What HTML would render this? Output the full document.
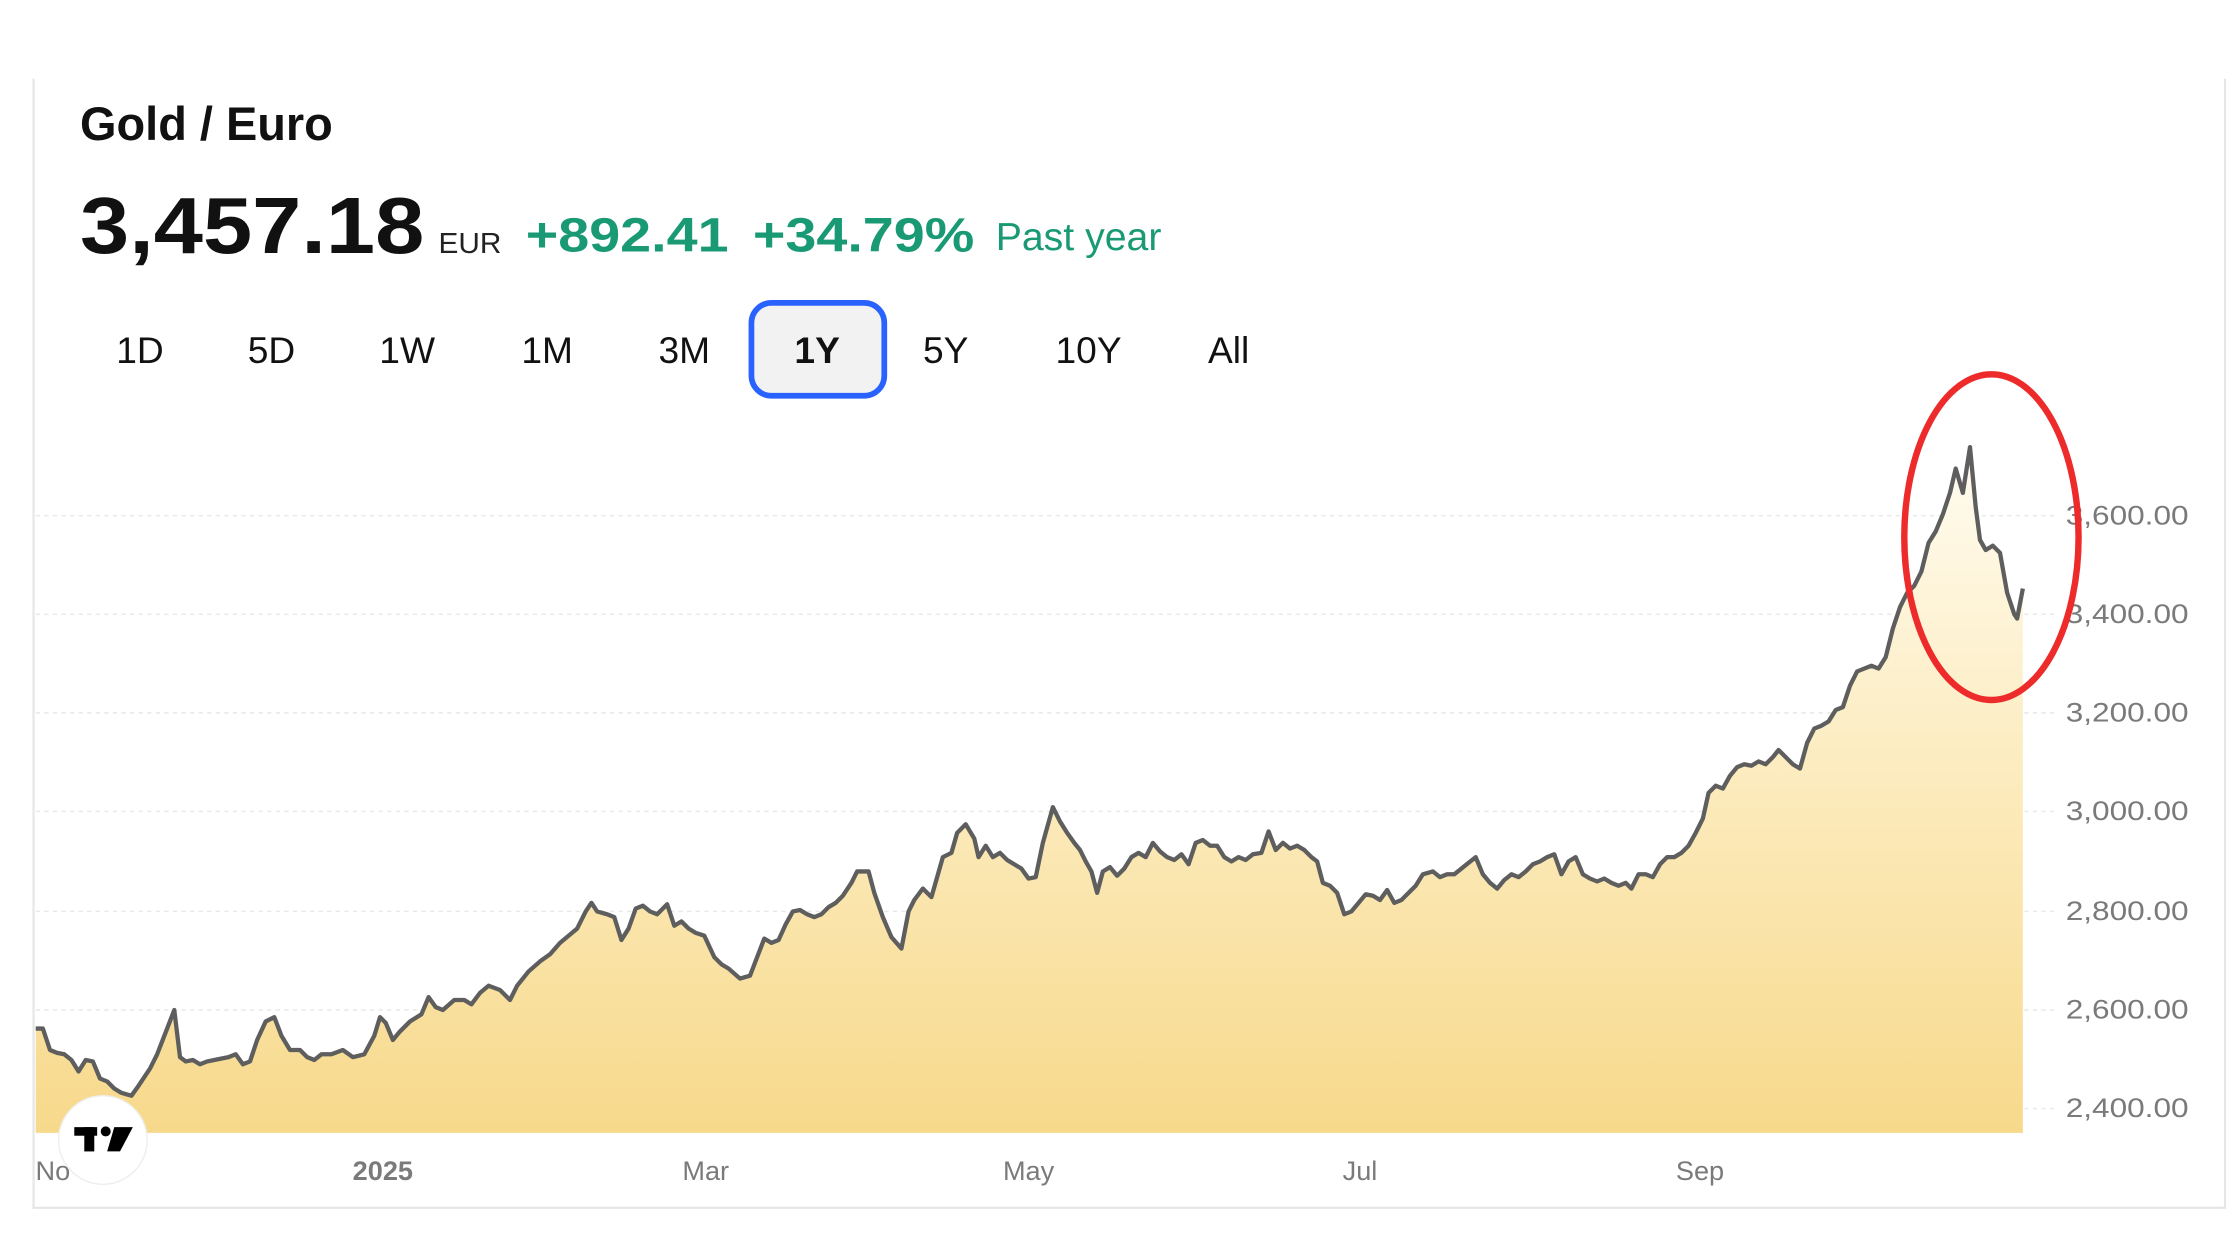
<!DOCTYPE html>
<html><head><meta charset="utf-8"><style>html,body{margin:0;padding:0;background:#fff}svg{display:block}</style></head>
<body>
<svg width="2240" height="1260" viewBox="0 0 1568 882" xmlns="http://www.w3.org/2000/svg" font-family="Liberation Sans, Arial, sans-serif">
<defs>
<linearGradient id="fill" gradientUnits="userSpaceOnUse" x1="0" y1="320" x2="0" y2="793">
<stop offset="0" stop-color="#fffbef"/>
<stop offset="0.45" stop-color="#fcecc0"/>
<stop offset="1" stop-color="#f7d98b"/>
</linearGradient>
</defs>
<rect width="1568" height="882" fill="#fff"/>
<path d="M23.5 55 V845.5 H1557.5 V55" fill="none" stroke="#e6e6e6" stroke-width="1.5"/>
<text x="56" y="98" font-size="33" font-weight="700" fill="#111" textLength="177" lengthAdjust="spacingAndGlyphs">Gold / Euro</text>
<text x="56" y="177" font-size="56" font-weight="700" fill="#111" textLength="241" lengthAdjust="spacingAndGlyphs">3,457.18</text>
<text x="307" y="177" font-size="20" fill="#222" textLength="44" lengthAdjust="spacingAndGlyphs">EUR</text>
<text x="368" y="176" font-size="34" font-weight="700" fill="#1a9a74" textLength="142" lengthAdjust="spacingAndGlyphs">+892.41</text>
<text x="527" y="176" font-size="34" font-weight="700" fill="#1a9a74" textLength="155" lengthAdjust="spacingAndGlyphs">+34.79%</text>
<text x="697" y="175" font-size="27" fill="#1a9a74" textLength="116" lengthAdjust="spacingAndGlyphs">Past year</text>
<rect x="526" y="212" width="93" height="65" rx="14" fill="#f2f2f2" stroke="#2962ff" stroke-width="4"/>
<g font-size="26" fill="#111" text-anchor="middle">
<text x="98" y="254">1D</text><text x="190" y="254">5D</text><text x="285" y="254">1W</text><text x="383" y="254">1M</text><text x="479" y="254">3M</text><text x="572" y="254" font-weight="700">1Y</text><text x="662" y="254">5Y</text><text x="762" y="254">10Y</text><text x="860" y="254">All</text>
</g>
<g stroke="#e8e8e8" stroke-width="1" stroke-dasharray="3,3">
<line x1="25" y1="361" x2="1440" y2="361"/><line x1="25" y1="430" x2="1440" y2="430"/><line x1="25" y1="499" x2="1440" y2="499"/><line x1="25" y1="568" x2="1440" y2="568"/><line x1="25" y1="638" x2="1440" y2="638"/><line x1="25" y1="707" x2="1440" y2="707"/><line x1="25" y1="776" x2="1440" y2="776"/>
</g>
<path fill="url(#fill)" stroke="none" d="M25 720 L30 720 L35 735 L40 737 L45 738 L50 742 L55 750 L60 742 L65 743 L70 755 L75 757 L80 762 L85 765 L92 767 L97 760 L105 748 L110 738 L117 720 L122 707 L126 740 L130 743 L135 742 L140 745 L145 743 L150 742 L160 740 L165 738 L170 745 L175 743 L180 728 L186 715 L192 712 L197 725 L203 735 L210 735 L215 740 L220 742 L225 738 L232 738 L240 735 L247 740 L255 738 L262 725 L266 712 L270 716 L275 728 L280 722 L287 715 L295 710 L300 698 L305 705 L310 707 L318 700 L325 700 L330 703 L336 695 L342 690 L350 693 L357 700 L362 690 L370 680 L378 673 L385 668 L392 660 L398 655 L404 650 L410 638 L414 632 L418 638 L425 640 L430 642 L435 658 L440 650 L445 636 L450 634 L455 638 L460 640 L467 633 L472 648 L477 645 L482 650 L487 653 L493 655 L500 670 L505 675 L510 678 L518 685 L525 683 L530 670 L535 657 L540 660 L545 658 L550 647 L555 638 L560 637 L565 640 L570 642 L575 640 L580 635 L585 632 L590 627 L596 618 L600 610 L608 610 L612 625 L618 642 L624 656 L631 664 L636 638 L640 630 L646 622 L652 628 L656 614 L660 600 L666 597 L670 583 L676 577 L682 587 L685 600 L690 592 L695 600 L700 597 L705 602 L710 605 L715 608 L720 615 L725 614 L730 590 L737 565 L742 575 L747 583 L752 590 L756 595 L760 603 L764 610 L768 625 L772 610 L777 607 L782 613 L787 608 L792 600 L797 597 L802 600 L807 590 L812 596 L817 600 L822 602 L827 598 L832 605 L837 590 L842 588 L847 592 L852 592 L857 600 L862 603 L867 600 L872 602 L877 598 L883 597 L888 582 L893 595 L898 590 L903 594 L908 592 L913 595 L918 600 L922 603 L926 618 L931 620 L936 625 L941 640 L946 638 L951 632 L956 626 L961 627 L966 630 L971 623 L976 632 L981 630 L986 625 L991 620 L996 612 L1003 610 L1008 614 L1013 612 L1018 612 L1023 608 L1028 604 L1033 600 L1038 612 L1043 618 L1048 622 L1053 616 L1058 612 L1063 614 L1068 610 L1073 605 L1078 603 L1083 600 L1088 598 L1093 612 L1098 603 L1103 600 L1108 612 L1113 615 L1118 617 L1123 615 L1128 618 L1133 620 L1138 618 L1142 622 L1147 612 L1152 612 L1157 614 L1162 605 L1167 600 L1172 600 L1177 597 L1182 592 L1187 583 L1192 573 L1196 555 L1201 550 L1206 552 L1211 543 L1216 537 L1221 535 L1226 536 L1231 533 L1236 535 L1241 530 L1245 525 L1250 530 L1255 535 L1260 538 L1265 520 L1270 510 L1275 508 L1280 505 L1285 497 L1290 495 L1295 480 L1300 470 L1305 468 L1310 466 L1315 468 L1320 460 L1325 440 L1330 425 L1335 415 L1340 410 L1345 400 L1350 380 L1355 372 L1360 360 L1365 345 L1369 328 L1374 345 L1379 313 L1383 355 L1386 378 L1390 385 L1395 382 L1400 387 L1405 415 L1410 430 L1412 433 L1416 412 L1416 793 L25 793 Z"/>
<path fill="none" stroke="#5e5e5e" stroke-width="3" stroke-linejoin="round" d="M25 720 L30 720 L35 735 L40 737 L45 738 L50 742 L55 750 L60 742 L65 743 L70 755 L75 757 L80 762 L85 765 L92 767 L97 760 L105 748 L110 738 L117 720 L122 707 L126 740 L130 743 L135 742 L140 745 L145 743 L150 742 L160 740 L165 738 L170 745 L175 743 L180 728 L186 715 L192 712 L197 725 L203 735 L210 735 L215 740 L220 742 L225 738 L232 738 L240 735 L247 740 L255 738 L262 725 L266 712 L270 716 L275 728 L280 722 L287 715 L295 710 L300 698 L305 705 L310 707 L318 700 L325 700 L330 703 L336 695 L342 690 L350 693 L357 700 L362 690 L370 680 L378 673 L385 668 L392 660 L398 655 L404 650 L410 638 L414 632 L418 638 L425 640 L430 642 L435 658 L440 650 L445 636 L450 634 L455 638 L460 640 L467 633 L472 648 L477 645 L482 650 L487 653 L493 655 L500 670 L505 675 L510 678 L518 685 L525 683 L530 670 L535 657 L540 660 L545 658 L550 647 L555 638 L560 637 L565 640 L570 642 L575 640 L580 635 L585 632 L590 627 L596 618 L600 610 L608 610 L612 625 L618 642 L624 656 L631 664 L636 638 L640 630 L646 622 L652 628 L656 614 L660 600 L666 597 L670 583 L676 577 L682 587 L685 600 L690 592 L695 600 L700 597 L705 602 L710 605 L715 608 L720 615 L725 614 L730 590 L737 565 L742 575 L747 583 L752 590 L756 595 L760 603 L764 610 L768 625 L772 610 L777 607 L782 613 L787 608 L792 600 L797 597 L802 600 L807 590 L812 596 L817 600 L822 602 L827 598 L832 605 L837 590 L842 588 L847 592 L852 592 L857 600 L862 603 L867 600 L872 602 L877 598 L883 597 L888 582 L893 595 L898 590 L903 594 L908 592 L913 595 L918 600 L922 603 L926 618 L931 620 L936 625 L941 640 L946 638 L951 632 L956 626 L961 627 L966 630 L971 623 L976 632 L981 630 L986 625 L991 620 L996 612 L1003 610 L1008 614 L1013 612 L1018 612 L1023 608 L1028 604 L1033 600 L1038 612 L1043 618 L1048 622 L1053 616 L1058 612 L1063 614 L1068 610 L1073 605 L1078 603 L1083 600 L1088 598 L1093 612 L1098 603 L1103 600 L1108 612 L1113 615 L1118 617 L1123 615 L1128 618 L1133 620 L1138 618 L1142 622 L1147 612 L1152 612 L1157 614 L1162 605 L1167 600 L1172 600 L1177 597 L1182 592 L1187 583 L1192 573 L1196 555 L1201 550 L1206 552 L1211 543 L1216 537 L1221 535 L1226 536 L1231 533 L1236 535 L1241 530 L1245 525 L1250 530 L1255 535 L1260 538 L1265 520 L1270 510 L1275 508 L1280 505 L1285 497 L1290 495 L1295 480 L1300 470 L1305 468 L1310 466 L1315 468 L1320 460 L1325 440 L1330 425 L1335 415 L1340 410 L1345 400 L1350 380 L1355 372 L1360 360 L1365 345 L1369 328 L1374 345 L1379 313 L1383 355 L1386 378 L1390 385 L1395 382 L1400 387 L1405 415 L1410 430 L1412 433 L1416 412"/>
<g font-size="19" fill="#7a7a7a">
<text x="1446" y="367" textLength="86" lengthAdjust="spacingAndGlyphs">3,600.00</text><text x="1446" y="436" textLength="86" lengthAdjust="spacingAndGlyphs">3,400.00</text><text x="1446" y="505" textLength="86" lengthAdjust="spacingAndGlyphs">3,200.00</text><text x="1446" y="574" textLength="86" lengthAdjust="spacingAndGlyphs">3,000.00</text><text x="1446" y="644" textLength="86" lengthAdjust="spacingAndGlyphs">2,800.00</text><text x="1446" y="713" textLength="86" lengthAdjust="spacingAndGlyphs">2,600.00</text><text x="1446" y="782" textLength="86" lengthAdjust="spacingAndGlyphs">2,400.00</text>
</g>
<g font-size="19" fill="#7a7a7a" text-anchor="middle">
<text x="37" y="826">No</text><text x="268" y="826" font-weight="700">2025</text><text x="494" y="826">Mar</text><text x="720" y="826">May</text><text x="952" y="826">Jul</text><text x="1190" y="826">Sep</text>
</g>
<circle cx="72" cy="798" r="31" fill="#fff" stroke="#eee" stroke-width="1"/>
<g fill="#000">
<rect x="52" y="789" width="16" height="6"/><rect x="59" y="789" width="7" height="17"/>
<circle cx="74" cy="792" r="3.5"/>
<polygon points="80,789 93,789 84,806 75,806"/>
</g>
<ellipse cx="1394" cy="376" rx="61" ry="114" fill="none" stroke="#ee2b2b" stroke-width="4.5"/>
</svg>
</body></html>
